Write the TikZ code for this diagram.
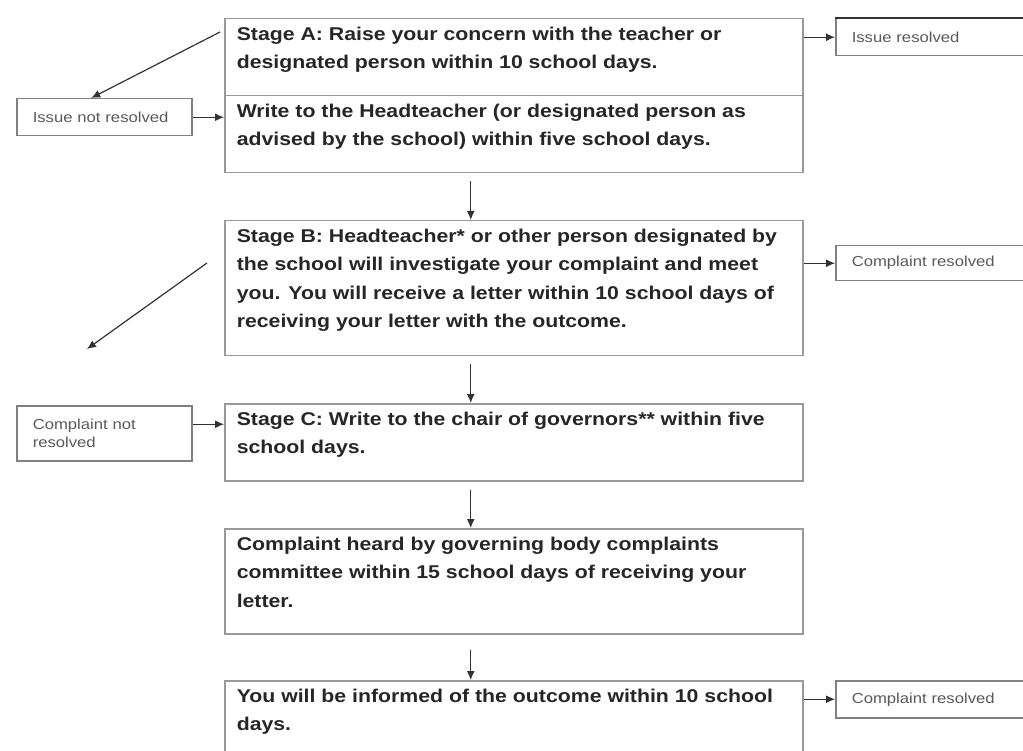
\documentclass[tikz,border=0pt]{standalone}
\usepackage{fontspec}
\setmainfont{Liberation Sans}[FakeStretch=1.15]
\usetikzlibrary{arrows.meta,calc}

\newcommand{\boxtext}[2]{\parbox[t][#1][t]{554pt}{\raggedright #2}}

\begin{document}
\begin{tikzpicture}[x=1pt, y=-1pt,
		stagebox/.style={draw=black!40, line width=1.5pt, anchor=north west, inner xsep=12pt, inner ysep=8pt,
			font=\fontsize{18.5}{28.5}\selectfont\bfseries, text=black!85},
		notebox/.style={draw=black!50, line width=1.5pt, anchor=north west, inner xsep=16pt, inner ysep=0pt,
			align=left, font=\fontsize{14.5}{18}\selectfont, text=black!65},
		flow/.style={black!80, line width=1.2pt, -{Latex[length=9pt, width=8pt]}}]
			\useasboundingbox (0,0) rectangle (1023,751);
			\clip (0,0) rectangle (1023,751);
			
			% stage A
			\node[stagebox] (stageA) at (224,18) {\boxtext{61pt}{Stage A: Raise your concern with the teacher or\\ designated person within 10 school days.}};
			\node[stagebox] (writeHT) at (224,95) {\boxtext{61pt}{Write to the Headteacher (or designated person as\\ advised by the school) within five school days.}};
			\node[notebox, text width=170pt, minimum height=37pt] (resA) at (835,18) {Issue resolved};
			\draw[line width=2.5pt, black!80] (resA.north west) -- (resA.north east);
			\node[notebox, text width=143pt, minimum height=37pt] (notresA) at (16,98) {Issue not resolved};
			\coordinate (fromA) at (220,32);
			
			\draw[flow] (resA.west -| stageA.east) -- (resA.west);
			\draw[flow] (fromA) -- ([xshift=-13pt]notresA.north);
			\draw[flow] (notresA.east) -- (notresA.east -| writeHT.west);
			
			% stage B
			\node[stagebox] (stageB) at (224,220) {\boxtext{119pt}{Stage B: Headteacher* or other person designated by\\ the school will investigate your complaint and meet\\ you. You will receive a letter within 10 school days of\\ receiving your letter with the outcome.}};
			\node[notebox, text width=170pt, minimum height=35pt] (resB) at (835,245) {Complaint resolved};
			\coordinate (fromB) at (207,263);
			\coordinate (toB) at (87,349);
			
			\draw[flow] ([xshift=-43pt, yshift=-8pt]writeHT.south) -- ([xshift=-43pt]stageB.north);
			\draw[flow] (resB.west -| stageB.east) -- (resB.west);
			\draw[flow] (fromB) -- (toB);
			
			% stage C
			\node[stagebox] (stageC) at (224,403) {\boxtext{61pt}{Stage C: Write to the chair of governors** within five\\ school days.}};
			\node[notebox, text width=143pt, minimum height=55pt] (notresB) at (16,405) {Complaint not\\ resolved};
			
			\draw[flow] ([xshift=-43pt, yshift=-8pt]stageB.south) -- ([xshift=-43pt]stageC.north);
			\draw[flow] ([yshift=9pt]notresB.east) -- ([yshift=9pt]notresB.east -| stageC.west);
			
			% committee and outcome
			\node[stagebox] (hearing) at (224,528) {\boxtext{89pt}{Complaint heard by governing body complaints\\ committee within 15 school days of receiving your\\ letter.}};
			\node[stagebox] (outcome) at (224,680) {\boxtext{74pt}{You will be informed of the outcome within 10 school\\ days.}};
			\node[notebox, text width=170pt, minimum height=37pt] (resC) at (835,680) {Complaint resolved};
			
			\draw[flow] ([xshift=-43pt, yshift=-8pt]stageC.south) -- ([xshift=-43pt]hearing.north);
			\draw[flow] ([xshift=-43pt, yshift=-15pt]hearing.south) -- ([xshift=-43pt]outcome.north);
			\draw[flow] (resC.west -| outcome.east) -- (resC.west);
		\end{tikzpicture}
\end{document}
